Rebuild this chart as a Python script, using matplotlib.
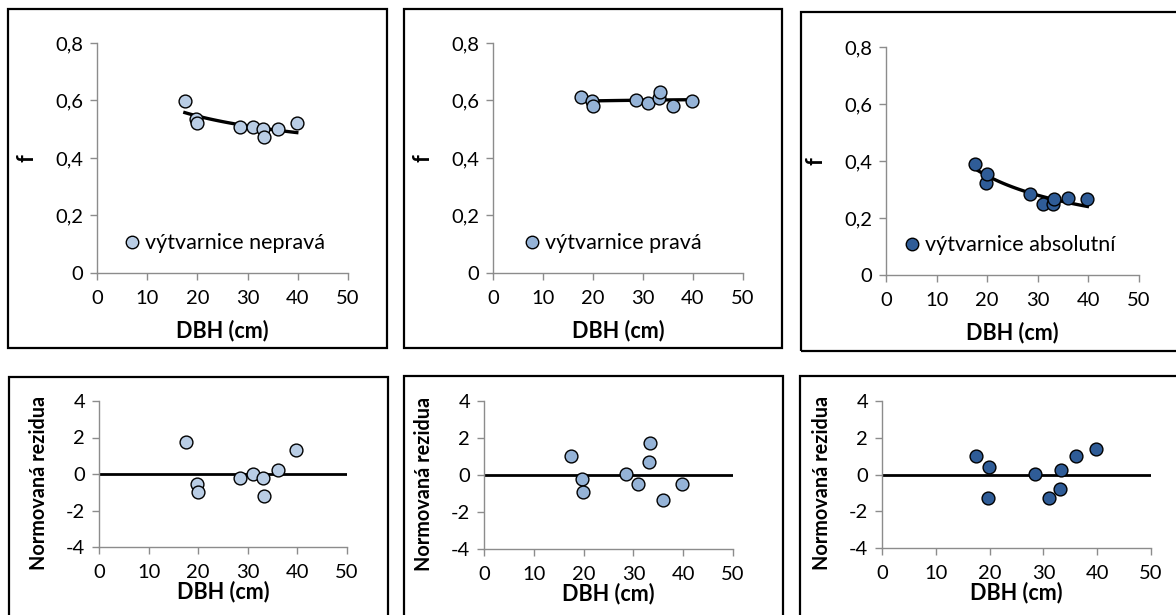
import numpy as np
import matplotlib
matplotlib.use("Agg")
import matplotlib.pyplot as plt
from matplotlib.patches import Rectangle
from matplotlib.lines import Line2D

plt.rcParams["font.family"] = ["Lato", "DejaVu Sans"]

# ---- data ----
dbh = [17.5, 19.7, 19.9, 28.5, 31.0, 33.1, 33.3, 36.0, 39.8]

f_neprava = [0.597, 0.535, 0.523, 0.509, 0.509, 0.500, 0.474, 0.500, 0.521]
f_prava = [0.612, 0.597, 0.580, 0.600, 0.591, 0.610, 0.631, 0.580, 0.597]
f_absolutni = [0.389, 0.322, 0.355, 0.284, 0.249, 0.249, 0.268, 0.269, 0.265]

res_neprava = [1.78, -0.55, -0.99, -0.24, 0.02, -0.20, -1.21, 0.20, 1.34]
res_prava = [1.03, -0.20, -0.92, 0.04, -0.50, 0.72, 1.73, -1.37, -0.47]
res_absolutni = [1.03, -1.29, 0.43, 0.02, -1.29, -0.78, 0.22, 0.98, 1.38]

# power trend f = a * DBH^b, coefficients estimated from the drawn curves
fit_a = [0.887, 0.581, 1.739]
fit_b = [-0.162, 0.010, -0.537]

series_names = ["výtvarnice nepravá", "výtvarnice pravá", "výtvarnice absolutní"]
colors = ["#B9CDE5", "#95B3D7", "#2F5C97"]

x_ticks = [0, 10, 20, 30, 40, 50]
f_ticks = [0, 0.2, 0.4, 0.6, 0.8]
f_ticklabels = ["0", "0,2", "0,4", "0,6", "0,8"]
res_ticks = [-4, -2, 0, 2, 4]
res_ticklabels = ["-4", "-2", "0", "2", "4"]

W, H = 1176, 615
fig = plt.figure(figsize=(W / 100, H / 100), dpi=100)


def px_axes(x0, x1, ytop, ybot):
    return fig.add_axes([x0 / W, 1 - ybot / H, (x1 - x0) / W, (ybot - ytop) / H])


def box(x0, y0, x1, y1):
    fig.add_artist(Rectangle((x0 / W, 1 - y1 / H), (x1 - x0) / W, (y1 - y0) / H,
                             transform=fig.transFigure, fill=False,
                             edgecolor="black", lw=1.6, zorder=0))


def style(ax, xlabelpad):
    for s in ("top", "right"):
        ax.spines[s].set_visible(False)
    for s in ("left", "bottom"):
        ax.spines[s].set_color("#8C8C8C")
        ax.spines[s].set_linewidth(1.0)
    ax.tick_params(direction="out", length=5, width=1.0, color="#8C8C8C",
                   labelsize=14.5, labelcolor="black")
    ax.tick_params(axis="x", pad=7)
    ax.tick_params(axis="y", pad=5)
    ax.set_xlim(0, 50)
    ax.set_xticks(x_ticks)
    ax.set_xlabel("DBH (cm)", fontsize=15.5, fontweight="bold", labelpad=xlabelpad)


# boxes around each chart
box(8, 9, 387, 348)
box(404, 9, 782, 348)
box(801, 12, 1180, 351)
box(9, 377, 388, 620)
box(404, 376, 783, 620)
box(800, 376, 1180, 620)

top_axes = [px_axes(97, 348, 43, 273), px_axes(493, 743, 43, 273),
            px_axes(886, 1139, 47, 275)]
bot_axes = [px_axes(99, 347, 401, 547), px_axes(484, 733, 401, 549),
            px_axes(882, 1151, 401, 548)]

f_data = [f_neprava, f_prava, f_absolutni]
res_data = [res_neprava, res_prava, res_absolutni]
leg_pos = [(0.115, 0.13), (0.13, 0.13), (0.078, 0.13)]

for i in range(3):
    ax = top_axes[i]
    style(ax, 9)
    ax.set_ylim(0, 0.8)
    ax.set_yticks(f_ticks)
    ax.set_yticklabels(f_ticklabels)
    ax.set_ylabel("f", fontsize=15.5, fontweight="bold", labelpad=13)
    xs = np.linspace(min(dbh), max(dbh), 100)
    ax.plot(xs, fit_a[i] * xs ** fit_b[i], color="black", lw=2.4, zorder=2)
    ax.scatter(dbh, f_data[i], s=85, color=colors[i], edgecolor="black",
               linewidth=1.0, zorder=3, clip_on=False)
    h = Line2D([], [], ls="none", marker="o", markersize=9,
               markerfacecolor=colors[i], markeredgecolor="black", markeredgewidth=1.0)
    ax.legend([h], [series_names[i]], loc="center left", bbox_to_anchor=leg_pos[i],
              frameon=False, fontsize=15.5, handlelength=0.6, handletextpad=0.3,
              borderpad=0, borderaxespad=0)

    ax = bot_axes[i]
    style(ax, 0)
    ax.set_ylim(-4, 4)
    ax.set_yticks(res_ticks)
    ax.set_yticklabels(res_ticklabels)
    ax.set_ylabel("Normovaná rezidua", fontsize=14.3, fontweight="bold")
    ax.yaxis.set_label_coords(-50 / ax.bbox.width, 0.44)
    ax.plot([0, 50], [0, 0], color="black", lw=2.0, zorder=2)
    ax.scatter(dbh, res_data[i], s=85, color=colors[i], edgecolor="black",
               linewidth=1.0, zorder=3, clip_on=False)

fig.savefig("out.png", dpi=100)
